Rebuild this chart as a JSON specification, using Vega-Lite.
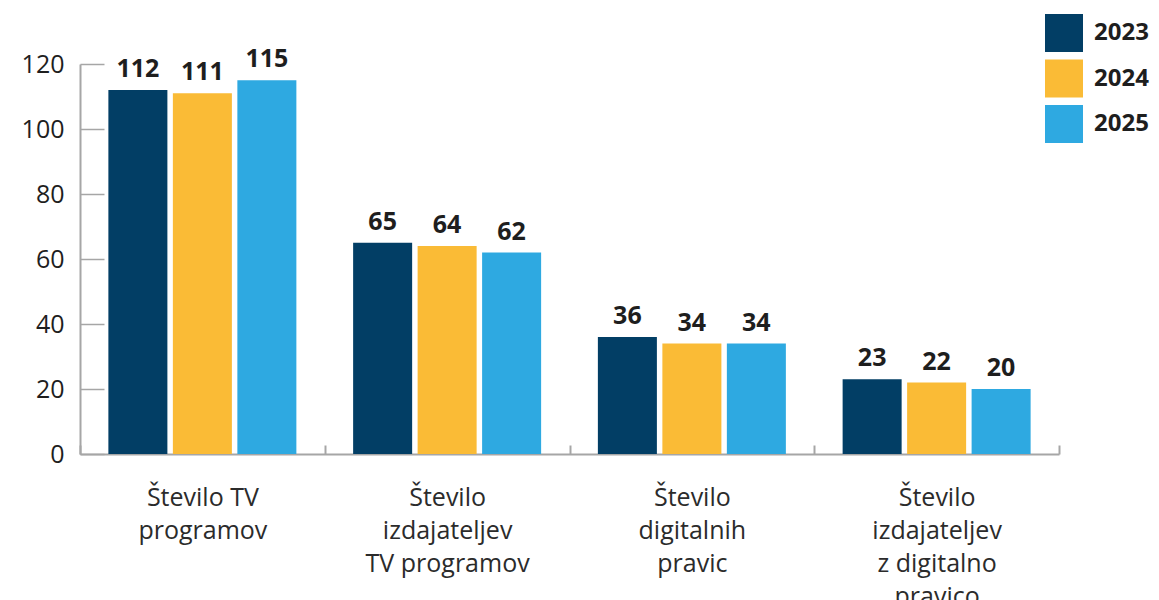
{
  "$schema": "https://vega.github.io/schema/vega-lite/v6.json",
  "autosize": {"type": "none"},
  "width": 979,
  "height": 390,
  "padding": {"left": 80, "top": 64, "right": 100, "bottom": 146},
  "background": "white",
  "config": {
    "view": {"stroke": null},
    "font": "Open Sans",
    "axis": {"labelFont": "Open Sans", "grid": false}
  },
  "data": {
    "values": [
      {"kategorija": "Število TV|programov", "leto": "2023", "vrednost": 112},
      {"kategorija": "Število TV|programov", "leto": "2024", "vrednost": 111},
      {"kategorija": "Število TV|programov", "leto": "2025", "vrednost": 115},
      {"kategorija": "Število|izdajateljev|TV programov", "leto": "2023", "vrednost": 65},
      {"kategorija": "Število|izdajateljev|TV programov", "leto": "2024", "vrednost": 64},
      {"kategorija": "Število|izdajateljev|TV programov", "leto": "2025", "vrednost": 62},
      {"kategorija": "Število|digitalnih|pravic", "leto": "2023", "vrednost": 36},
      {"kategorija": "Število|digitalnih|pravic", "leto": "2024", "vrednost": 34},
      {"kategorija": "Število|digitalnih|pravic", "leto": "2025", "vrednost": 34},
      {"kategorija": "Število|izdajateljev|z digitalno|pravico", "leto": "2023", "vrednost": 23},
      {"kategorija": "Število|izdajateljev|z digitalno|pravico", "leto": "2024", "vrednost": 22},
      {"kategorija": "Število|izdajateljev|z digitalno|pravico", "leto": "2025", "vrednost": 20}
    ]
  },
  "encoding": {
    "x": {
      "field": "kategorija",
      "type": "nominal",
      "sort": null,
      "scale": {"paddingInner": 0, "paddingOuter": 0},
      "axis": {
        "title": null,
        "labelAngle": 0,
        "labelExpr": "split(datum.label, '|')",
        "labelFontSize": 25,
        "labelLineHeight": 33,
        "labelColor": "#2b2b2b",
        "labelBaseline": "top",
        "labelPadding": 40,
        "labelLimit": 400,
        "domainColor": "#a6a6a6",
        "domainWidth": 2,
        "tickColor": "#a6a6a6",
        "tickWidth": 2,
        "tickSize": -9,
        "tickBand": "extent"
      }
    },
    "xOffset": {
      "field": "leto",
      "type": "nominal",
      "scale": {"paddingInner": 0.085, "paddingOuter": 0.44}
    },
    "y": {
      "field": "vrednost",
      "type": "quantitative",
      "scale": {"domain": [0, 120], "nice": false},
      "axis": {
        "title": null,
        "values": [0, 20, 40, 60, 80, 100, 120],
        "labelFontSize": 25,
        "labelColor": "#1e1e1e",
        "labelPadding": 40,
        "domainColor": "#a6a6a6",
        "domainWidth": 2,
        "tickColor": "#a6a6a6",
        "tickWidth": 1.5,
        "tickSize": -24
      }
    }
  },
  "layer": [
    {
      "mark": {"type": "bar"},
      "encoding": {
        "color": {
          "field": "leto",
          "type": "nominal",
          "scale": {"domain": ["2023", "2024", "2025"], "range": ["#023e65", "#fabb36", "#2ea9e1"]},
          "legend": {
            "title": null,
            "orient": "none",
            "legendX": 965,
            "legendY": -50,
            "padding": 0,
            "symbolType": "square",
            "symbolSize": 1444,
            "symbolStrokeWidth": 0,
            "symbolOpacity": 1,
            "rowPadding": 7.5,
            "labelFontSize": 24,
            "labelFontWeight": "bold",
            "labelColor": "#1e1e1e",
            "labelOffset": 11,
            "labelFont": "Open Sans"
          }
        }
      }
    },
    {
      "mark": {
        "type": "text",
        "baseline": "alphabetic",
        "dy": -13,
        "fontSize": 25,
        "fontWeight": "bold",
        "font": "Open Sans",
        "color": "#1e1e1e"
      },
      "encoding": {
        "text": {"field": "vrednost", "type": "quantitative"}
      }
    }
  ]
}
